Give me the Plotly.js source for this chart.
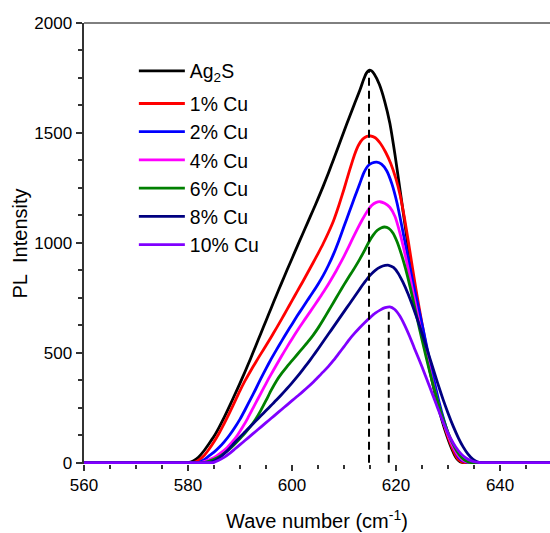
<!DOCTYPE html>
<html><head><meta charset="utf-8">
<script src="https://cdn.plot.ly/plotly-3.0.1.min.js"></script>
<style>html,body{margin:0;padding:0;background:#fff}#chart{width:550px;height:533px}</style>
</head><body><div id="chart"></div>
<script>
// Series labels and colours
const seriesNames = ["Ag<sub>2</sub>S", "1% Cu", "2% Cu", "4% Cu", "6% Cu", "8% Cu", "10% Cu"];
const seriesColors = ["#000000", "#ff0000", "#0000ff", "#ff00ff", "#008000", "#000080", "#8000ff"];

// Wave number / PL intensity samples
const xAg2S = [560,579,580,581,582,583,584,585,586,587,588,589,590,591,592,593,594,595,596,597,598,599,600,601,602,603,604,605,606,607,608,609,610,611,612,613,613.8,614.3,614.8,615.3,615.8,616.8,617.8,618.8,619.8,620.8,621.8,622.8,623.8,624.8,625.8,626.8,627.8,628.8,629.8,630.8,631.6,632.3,633,640,650];
const yAg2S = [0,0,0,8,25,52,85,120,162,208,258,310,362,416,472,530,588,646,704,762,818,874,929,984,1038,1092,1146,1201,1258,1318,1380,1444,1508,1570,1632,1692,1745,1772,1785,1782,1768,1720,1645,1545,1400,1235,1068,905,755,620,498,385,283,195,120,58,20,4,0,0,0];

const xCu1 = [560,580,581,582,583,584,585,586,587,588,589,590,591,592,593,594,595,596,597,598,599,600,601,602,603,604,605,606,607,608,609,610,611,612,612.8,613.6,614.4,615.1,616,617,618,619,620,620.8,621.6,622.4,623.2,624,625,626,627,628,629,630,631,631.8,632.5,633.2,640,650];
const yCu1 = [0,0,0,10,30,60,95,135,180,228,278,328,374,416,456,495,533,572,612,653,695,737,779,821,864,907,951,997,1047,1102,1170,1245,1325,1400,1445,1472,1484,1486,1478,1452,1412,1360,1290,1215,1115,1000,880,765,632,505,390,283,192,117,57,20,5,0,0,0];

const xCu2 = [560,581,582,583,584,585,586,587,588,589,590,591,592,593,594,595,596,597,598,599,600,601,602,603,604,605,606,607,608,609,610,611,612,613,613.8,614.6,615.4,616.3,617.2,618.2,619.2,620.2,621.2,622.2,623.2,624.2,625.2,626.2,627.2,628.2,629.2,630.2,631.2,632.1,633,634,640,650];
const yCu2 = [0,0,0,12,30,48,70,96,126,160,198,242,288,334,382,428,472,513,553,592,630,668,704,740,775,812,852,898,950,1010,1075,1140,1205,1268,1318,1350,1363,1367,1358,1328,1268,1180,1065,945,825,718,608,495,385,283,195,120,60,22,6,0,0,0];

const xCu4 = [560,581,582.5,583.5,584.5,585.5,586.5,587.5,588.5,589.5,590.5,591.5,592.5,593.5,594.5,595.5,596.5,597.5,598.5,599.5,600.5,601.5,602.5,603.5,604.5,605.5,606.5,607.5,608.5,609.5,610.5,611.5,612.5,613.5,614.5,615.3,616.1,616.9,617.8,618.8,619.8,620.8,621.8,622.8,623.8,624.8,625.8,626.8,627.8,628.8,629.8,630.8,631.8,632.8,633.8,634.5,640,650];
const yCu4 = [0,0,0,8,18,31,48,68,94,125,162,203,248,293,338,382,424,465,505,544,582,618,653,687,722,757,793,832,873,917,963,1012,1060,1105,1145,1170,1183,1187,1180,1162,1120,1040,940,828,712,600,495,392,296,210,138,80,38,12,2,0,0,0];

const xCu6 = [560,582,583,584,585,586,587,588,589,590,591,592,593,594,595,596,597,598,599,600,601,602,603,604,605,606,607,608,609,610,611,612,613,614,614.8,615.6,616.4,617.2,617.8,618.6,619.4,620.2,621,621.8,622.7,623.6,624.5,625.4,626.3,627.2,628.1,629,629.9,630.8,631.7,632.6,633.5,634.5,640,650];
const yCu6 = [0,0,0,6,15,27,43,62,85,110,136,165,198,238,283,330,372,406,436,464,492,520,548,578,612,650,690,730,770,810,848,885,925,968,1005,1035,1057,1069,1072,1066,1045,1005,950,885,800,705,610,518,430,348,272,203,143,92,52,24,8,0,0,0];

const xCu8 = [560,583,584,585,586,587,588,589,590,591,592,593,594,595,596,597,598,599,600,601,602,603,604,605,606,607,608,609,610,611,612,613,614,615,616,617,617.9,618.6,619.5,620.4,621.3,622.3,623.3,624.2,625.2,626.1,627.1,628,629,630,631,632,632.9,633.8,634.8,635.6,636.5,640,650];
const yCu8 = [0,0,0,8,22,42,66,92,117,141,165,189,213,237,261,285,310,336,363,391,421,452,484,517,551,585,619,653,687,721,755,789,822,852,875,890,897,898,888,862,822,768,706,645,573,505,430,362,290,225,165,112,72,40,15,4,0,0,0];

const xCu10 = [560,584,584.8,586,587,588,589,590,591,592,593,594,595,596,597,598,599,600,601,602,603,604,605,606,607,608,609,610,611,612,613,614,615,616,617,617.9,618.8,619.7,620.7,621.6,622.6,623.5,624.5,625.5,626.5,627.5,628.5,629.5,630.5,631.5,632.5,633.5,634.5,635.5,636.3,640,650];
const yCu10 = [0,0,0,12,25,42,62,82,102,122,142,162,182,202,222,242,262,282,302,322,343,365,389,413,438,466,497,528,560,588,614,638,660,680,695,705,709,698,668,628,575,522,465,405,343,280,218,160,110,70,40,20,8,2,0,0,0];

// Peak positions (dashed drop lines)
const peakX = [614.8, 618.6];
const peakY = [1785, 709];

// Axis ticks
const xTickVals = [560, 580, 600, 620, 640];
const yTickVals = [0, 500, 1000, 1500, 2000];

const xs = [xAg2S, xCu1, xCu2, xCu4, xCu6, xCu8, xCu10];
const ys = [yAg2S, yCu1, yCu2, yCu4, yCu6, yCu8, yCu10];

const FONT = "Liberation Sans, Arial, sans-serif";
const AXC = "#333333";

const traces = xs.map((x, i) => ({
  type: "scatter", mode: "lines", x: x, y: ys[i], name: seriesNames[i],
  legendgroup: i === 0 ? "g0" : "g1",
  line: {color: seriesColors[i], width: 2.8, shape: "spline", smoothing: 0.6}
}));
peakX.forEach((p, i) => {
  traces.push({type: "scatter", mode: "lines", x: [p, p], y: [0, peakY[i]], showlegend: false,
    hoverinfo: "skip", line: {color: "#000000", width: 2, dash: "8px,5px"}});
});

const layout = {
  width: 550, height: 533,
  margin: {l: 84, r: 0, t: 23, b: 69},
  paper_bgcolor: "#ffffff", plot_bgcolor: "#ffffff",
  font: {family: FONT, color: "#000000", size: 17},
  showlegend: true,
  legend: {
    x: 0.107, xanchor: "left", y: 0.935, yanchor: "top",
    font: {family: FONT, size: 19.4, color: "#000000"},
    bgcolor: "rgba(0,0,0,0)", borderwidth: 0,
    itemwidth: 46, tracegroupgap: 4.5, traceorder: "grouped"
  },
  xaxis: {
    range: [560, 649.6], tickvals: xTickVals, showgrid: false, zeroline: false,
    showline: false, ticks: "outside", ticklen: 6, tickwidth: 2, tickcolor: AXC,
    minor: {dtick: 5, tick0: 560, ticks: "outside", ticklen: 4, tickwidth: 2, tickcolor: AXC},
    tickfont: {family: FONT, size: 17, color: "#000000"},
    title: {text: "Wave number (cm<sup>-1</sup>)", font: {family: FONT, size: 20, color: "#000000"}, standoff: 19}
  },
  yaxis: {
    range: [-6, 2000], tickvals: yTickVals, showgrid: false, zeroline: false,
    showline: true, linecolor: AXC, linewidth: 2.5, ticks: "outside", ticklen: 6, tickwidth: 2, tickcolor: AXC,
    minor: {dtick: 125, tick0: 0, ticks: "outside", ticklen: 4, tickwidth: 2, tickcolor: AXC},
    tickfont: {family: FONT, size: 17, color: "#000000"},
    title: {text: "PL\u00A0 Intensity", font: {family: FONT, size: 20, color: "#000000"}, standoff: 2}
  },
  shapes: [{type: "line", xref: "paper", yref: "paper", x0: 0, x1: 1, y0: 1, y1: 1, line: {color: "#000000", width: 1}}]
};

Plotly.newPlot("chart", traces, layout, {displayModeBar: false, staticPlot: true});
</script>
</body></html>
